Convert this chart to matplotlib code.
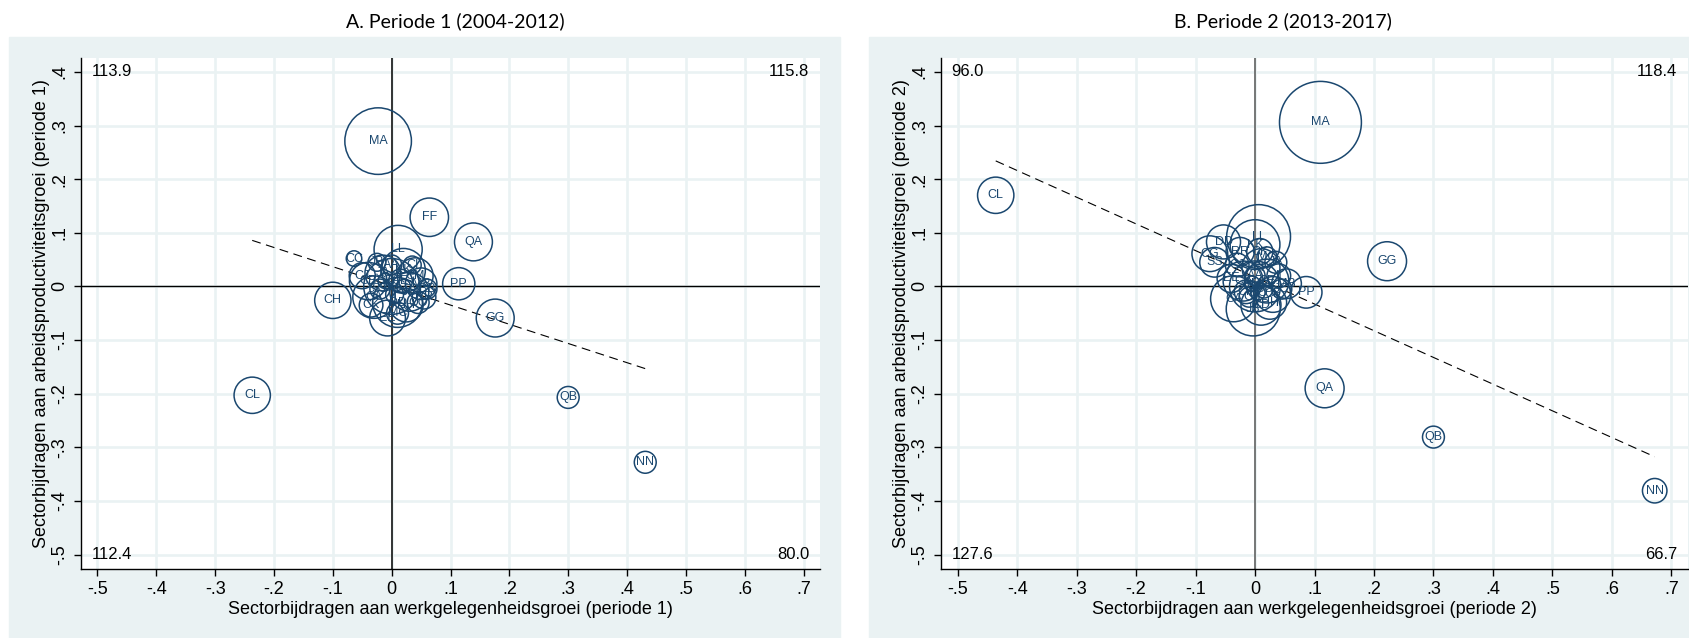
import numpy as np
import matplotlib
matplotlib.use("Agg")
import matplotlib.pyplot as plt
from matplotlib.patches import Rectangle

# ---- data: panel A, periode 1 (2004-2012) ----
sectoren_1 = ["MA", "FF", "QA", "PP", "GG", "CH", "CL", "QB", "NN",
              "LL", "CC", "EE", "CB", "CA", "KK", "CG", "JC", "MB", "RR",
              "CJ", "DD", "JA", "CE", "CM", "SS", "II", "HH", "CK", "AA",
              "BB", "CD", "CF", "CI", "JB", "MC", "OO"]
x_1 = [-0.023, 0.064, 0.139, 0.114, 0.176, -0.100, -0.237, 0.300, 0.431,
       0.011, -0.064, -0.007, -0.040, -0.030, 0.020, 0.000, 0.030, 0.050, 0.055,
       -0.050, 0.010, -0.015, 0.015, 0.040, -0.020, 0.005, 0.025, -0.035, 0.000,
       0.060, -0.010, 0.020, 0.035, -0.025, 0.010, 0.045]
y_1 = [0.271, 0.129, 0.083, 0.005, -0.059, -0.026, -0.203, -0.207, -0.328,
       0.069, 0.052, -0.059, 0.010, -0.020, 0.030, 0.000, -0.010, 0.005, -0.020,
       0.020, -0.030, 0.025, 0.010, 0.020, -0.005, -0.015, -0.035, -0.035, 0.040,
       -0.005, 0.010, 0.000, 0.040, 0.045, -0.050, -0.030]
gewicht_1 = [111, 37, 36, 26, 36, 33, 33, 12, 12,
             58, 6, 32, 35, 45, 48, 78, 38, 25, 14,
             17, 62, 32, 14, 32, 10, 8, 28, 14, 10,
             10, 6, 5, 8, 8, 12, 12]
fit_1 = (0.001, -0.358)  # intercept, helling
hoeken_1 = ["113.9", "115.8", "112.4", "80.0"]  # linksboven, rechtsboven, linksonder, rechtsonder

# ---- data: panel B, periode 2 (2013-2017) ----
sectoren_2 = ["MA", "CL", "GG", "PP", "QA", "QB", "NN",
              "LL", "KK", "DD", "CG", "SS", "CA", "JB", "MB", "RR", "CD",
              "CK", "CC", "CE", "CB", "CF", "EE", "FF", "CH", "II", "HH",
              "CJ", "AA", "BB", "CI", "JA", "JC", "CM", "MC", "OO"]
x_2 = [0.110, -0.436, 0.222, 0.086, 0.117, 0.300, 0.672,
       0.006, 0.000, -0.053, -0.076, -0.068, -0.036, -0.003, 0.053, -0.025, 0.010,
       0.008, 0.000, 0.020, -0.020, 0.030, -0.040, 0.010, -0.015, 0.040, 0.025,
       -0.030, 0.000, 0.015, -0.010, 0.035, 0.045, -0.005, 0.020, 0.005]
y_2 = [0.306, 0.170, 0.047, -0.011, -0.190, -0.281, -0.381,
       0.093, 0.078, 0.083, 0.061, 0.045, -0.023, -0.042, 0.005, 0.065, -0.035,
       0.065, 0.000, 0.010, 0.010, -0.015, 0.015, 0.035, -0.010, 0.020, -0.030,
       0.040, 0.020, -0.005, -0.020, 0.045, -0.005, 0.005, 0.055, -0.012]
gewicht_2 = [168, 33, 38, 25, 38, 12, 15,
             102, 62, 29, 32, 22, 53, 73, 22, 20, 40,
             17, 65, 48, 40, 32, 20, 36, 14, 14, 28,
             14, 10, 8, 10, 12, 10, 6, 10, 5]
fit_2 = (0.017, -0.498)
hoeken_2 = ["96.0", "118.4", "127.6", "66.7"]

ticks_x = np.round(np.arange(-0.5, 0.71, 0.1), 1)
ticks_y = np.round(np.arange(-0.5, 0.41, 0.1), 1)


def stata_label(v):
    # Stata style: -.5, .1, 0
    if v == 0:
        return "0"
    return f"{v:.1f}".replace("0.", ".")


navy = "#1a476f"
bg = "#eaf2f3"
narrow = ["Liberation Sans Narrow", "Liberation Sans", "DejaVu Sans"]
regular = ["Liberation Sans", "DejaVu Sans"]

fig = plt.figure(figsize=(16.9, 6.38), dpi=100)
W, H = 1690, 638

# panel backgrounds
fig.patches.append(Rectangle((9 / W, 0), (840 - 9) / W, 1 - 37 / H,
                             transform=fig.transFigure, color=bg, zorder=-10))
fig.patches.append(Rectangle((869 / W, 0), (1690 - 869) / W, 1 - 37 / H,
                             transform=fig.transFigure, color=bg, zorder=-10))


def panel(rect, sectoren, x, y, gewicht, fit, hoeken, periode, vline_color):
    ax = fig.add_axes(rect)
    ax.set_xlim(-0.528, 0.728)
    ax.set_ylim(-0.527, 0.426)
    ax.set_facecolor("white")
    ax.set_xticks(ticks_x)
    ax.set_yticks(ticks_y)
    ax.set_xticklabels([stata_label(v) for v in ticks_x], family=narrow, fontsize=13)
    ax.set_yticklabels([stata_label(v) for v in ticks_y], family=narrow, fontsize=13,
                       rotation=90, va="center")
    ax.tick_params(direction="out", length=5, width=1, color="black", pad=4)
    ax.grid(True, color=bg, linewidth=1.9, zorder=0)
    ax.set_axisbelow(True)
    for side in ["top", "right"]:
        ax.spines[side].set_visible(False)
    for side in ["left", "bottom"]:
        ax.spines[side].set_linewidth(1)

    ax.axhline(0, color="black", linewidth=1, zorder=1)
    ax.axvline(0, color=vline_color, linewidth=1.1, zorder=1)

    x = np.array(x)
    y = np.array(y)
    g = np.array(gewicht)
    ax.scatter(x, y, s=g * 20.7, facecolors="none", edgecolors=navy,
               linewidths=1.1, zorder=3)
    for lab, xi, yi in zip(sectoren, x, y):
        ax.text(xi, yi, lab, ha="center", va="center", fontsize=9, color=navy,
                family=regular, zorder=4)

    xs = np.array([x.min(), x.max()])
    ax.plot(xs, fit[0] + fit[1] * xs, color="black", linestyle=(0, (8, 5)),
            linewidth=0.8, zorder=2)

    ax.text(-0.51, 0.4, hoeken[0], ha="left", va="center", fontsize=12, family=regular)
    ax.text(0.71, 0.4, hoeken[1], ha="right", va="center", fontsize=12, family=regular)
    ax.text(-0.51, -0.5, hoeken[2], ha="left", va="center", fontsize=12, family=regular)
    ax.text(0.71, -0.5, hoeken[3], ha="right", va="center", fontsize=12, family=regular)

    ax.set_xlabel(f"Sectorbijdragen aan werkgelegenheidsgroei (periode {periode})",
                  family=narrow, fontsize=13, labelpad=2)
    ax.set_ylabel(f"Sectorbijdragen aan arbeidsproductiviteitsgroei (periode {periode})",
                  family=narrow, fontsize=13, labelpad=1)
    return ax


panel([81 / W, 1 - 569 / H, (820 - 81) / W, (569 - 58) / H],
      sectoren_1, x_1, y_1, gewicht_1, fit_1, hoeken_1, 1, "black")
panel([941 / W, 1 - 569 / H, (1688 - 941) / W, (569 - 58) / H],
      sectoren_2, x_2, y_2, gewicht_2, fit_2, hoeken_2, 2, "#555555")

fig.text(455 / W, 1 - 21 / H, "A. Periode 1 (2004-2012)", ha="center", va="center",
         fontsize=14, family=["Lato", "DejaVu Sans"])
fig.text(1283 / W, 1 - 21 / H, "B. Periode 2 (2013-2017)", ha="center", va="center",
         fontsize=14, family=["Lato", "DejaVu Sans"])

fig.savefig("out.png", dpi=100)
